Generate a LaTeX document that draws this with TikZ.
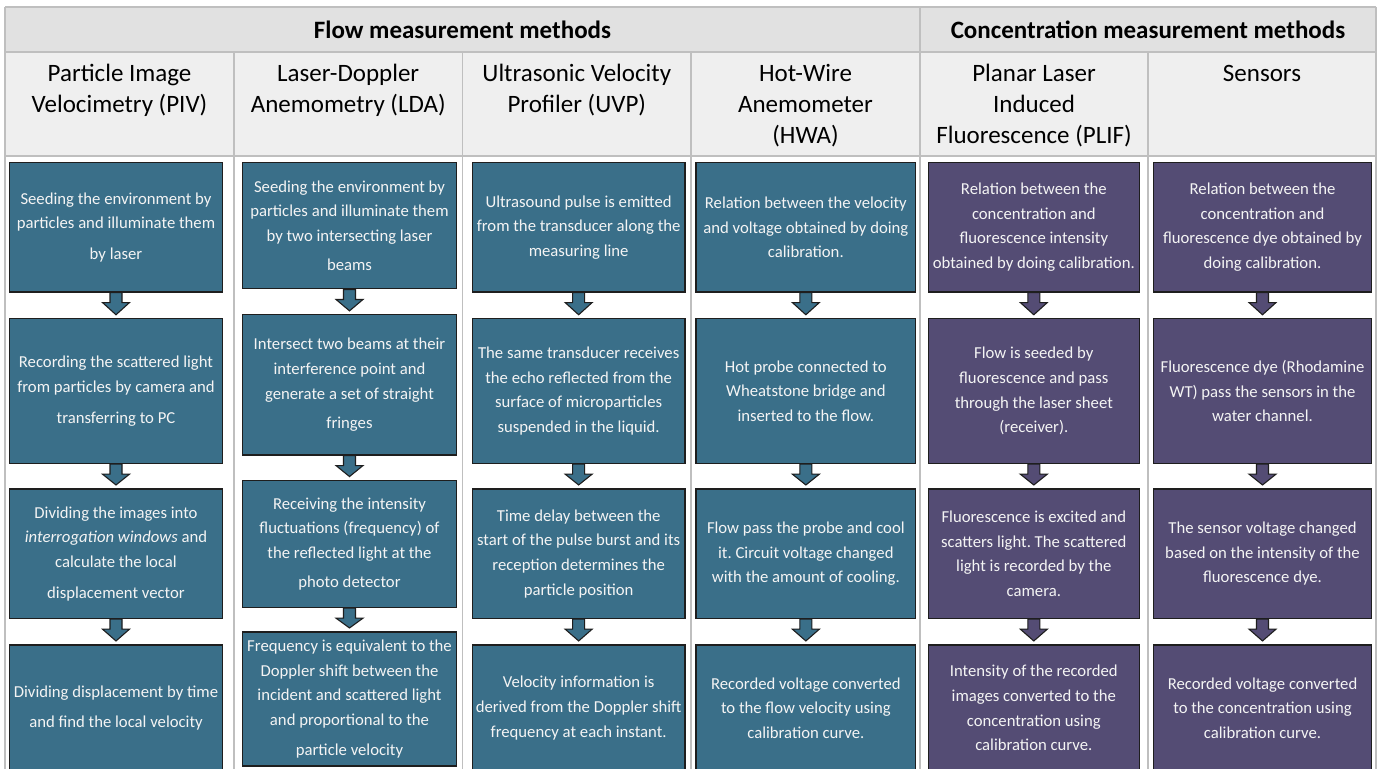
\documentclass[tikz,border=0pt]{standalone}
\usepackage{fontspec}
\setmainfont{Carlito}
\usetikzlibrary{calc}
\frenchspacing
\definecolor{tealbox}{HTML}{3A6F89}
\definecolor{purpbox}{HTML}{544C74}
\definecolor{boxline}{HTML}{1E1E1E}
\definecolor{boxtext}{HTML}{F4F4F4}
\definecolor{gridline}{HTML}{BFBFBF}
\definecolor{headA}{HTML}{E1E1E1}
\definecolor{headB}{HTML}{EFEFEF}
\tikzset{
  sbox/.style={draw=boxline, line width=1.1pt, inner sep=0pt, text=boxtext,
    font=\fontsize{16.7}{24.6}\selectfont, align=center},
  hdr/.style={inner sep=0pt, align=center, anchor=north, text=black,
    font=\fontsize{25}{31}\selectfont},
  ttl/.style={inner sep=0pt, text=black, font=\bfseries\fontsize{25}{30}\selectfont},
  grid/.style={draw=gridline, line width=1.5pt},
  arr/.style={draw=boxline, line width=1.1pt, line join=miter}
}
\newcommand{\boxnode}[7]{%
  \node[sbox, fill=#6, minimum width={#3-#2}, minimum height={#5-#4}] (#1) at ({(#2+#3)/2},{(#4+#5)/2}) {#7};}
\newcommand{\flowarrow}[3]{%
  \path[arr, fill=#3] let \p1=(#1.south), \p2=(#2.north) in
  (\x1-6pt,\y1) -- (\x1-6pt,\y1-10pt) -- (\x1-13.5pt,\y1-10pt) -- (\x1,\y2+3.5pt)
  -- (\x1+13.5pt,\y1-10pt) -- (\x1+6pt,\y1-10pt) -- (\x1+6pt,\y1) -- cycle;}
\begin{document}
\begin{tikzpicture}[x=1pt,y=-1pt]
\useasboundingbox (0,0) rectangle (1380,768);
\clip (0,0) rectangle (1380,768);
\fill[white] (0,0) rectangle (1380,768);
% header fills
\fill[headA] (5,7) rectangle (1376,52);
\fill[headB] (5,52) rectangle (1376,156);
% grid
\draw[grid] (5,7) -- (1376,7);
\draw[grid, line width=2pt] (5,52) -- (1376,52);
\draw[grid, line width=2pt] (5,156) -- (1376,156);
\draw[grid] (5,7) -- (5,770);
\draw[grid] (1376,7) -- (1376,770);
\draw[grid] (920,7) -- (920,770);
\foreach \xx in {234,462.5,691,1148} {\draw[grid] (\xx,52) -- (\xx,770);}
% titles
\node[ttl] (hd1) at (462.5,29.5) {Flow measurement methods};
\node[ttl] (hd2) at (1148,29.5) {Concentration measurement methods};
\node[hdr] (c1) at (119.5,59.8) {\strut Particle Image\\Velocimetry (PIV)};
\node[hdr] (c2) at (348.2,59.8) {\strut Laser-Doppler\\Anemometry (LDA)};
\node[hdr] (c3) at (576.8,59.8) {\strut Ultrasonic Velocity\\Profiler (UVP)};
\node[hdr] (c4) at (805.5,59.8) {\strut Hot-Wire\\Anemometer\\(HWA)};
\node[hdr] (c5) at (1034,59.8) {\strut Planar Laser\\Induced\\Fluorescence (PLIF)};
\node[hdr] (c6) at (1262,59.8) {\strut Sensors};
% PIV
\boxnode{p1}{9.3}{222.7}{162.6}{292}{tealbox}{Seeding the environment by\\particles and illuminate them\\[6pt]by laser}
\boxnode{p2}{9.3}{222.7}{318.8}{463.6}{tealbox}{Recording the scattered light\\from particles by camera and\\[6pt]transferring to PC}
\boxnode{p3}{9.3}{222.7}{489}{618.6}{tealbox}{Dividing the images into\\\textit{interrogation windows} and\\calculate the local\\[6pt]displacement vector}
\boxnode{p4}{9.3}{222.7}{645}{771}{tealbox}{Dividing displacement by time\\[5pt]and find the local velocity}
% LDA
\boxnode{l1}{242.3}{456.7}{162.6}{288.9}{tealbox}{Seeding the environment by\\particles and illuminate them\\by two intersecting laser\\[5pt]beams}
\boxnode{l2}{242.3}{456.7}{314.9}{455}{tealbox}{Intersect two beams at their\\interference point and\\generate a set of straight\\[5pt]fringes}
\boxnode{l3}{242.3}{456.7}{480.6}{607.6}{tealbox}{Receiving the intensity\\fluctuations (frequency) of\\the reflected light at the\\[5pt]photo detector}
\boxnode{l4}{242.3}{456.7}{632}{766}{tealbox}{Frequency is equivalent to the\\Doppler shift between the\\incident and scattered light\\and proportional to the\\[5pt]particle velocity}
% UVP
\boxnode{u1}{472.3}{685}{162.6}{292}{tealbox}{Ultrasound pulse is emitted\\from the transducer along the\\measuring line}
\boxnode{u2}{472.3}{685}{318.8}{463.6}{tealbox}{The same transducer receives\\the echo reflected from the\\surface of microparticles\\suspended in the liquid.}
\boxnode{u3}{472.3}{685}{489}{618.6}{tealbox}{Time delay between the\\start of the pulse burst and its\\reception determines the\\particle position}
\boxnode{u4}{472.3}{685}{645}{771}{tealbox}{Velocity information is\\derived from the Doppler shift\\frequency at each instant.}
% HWA
\boxnode{h1}{696}{915.7}{162.6}{292}{tealbox}{Relation between the velocity\\and voltage obtained by doing\\calibration.}
\boxnode{h2}{696}{915.7}{318.8}{463.6}{tealbox}{Hot probe connected to\\Wheatstone bridge and\\inserted to the flow.}
\boxnode{h3}{696}{915.7}{489}{618.6}{tealbox}{Flow pass the probe and cool\\it. Circuit voltage changed\\with the amount of cooling.}
\boxnode{h4}{696}{915.7}{645}{771}{tealbox}{Recorded voltage converted\\to the flow velocity using\\calibration curve.}
% PLIF
\boxnode{f1}{928.3}{1139.3}{162.6}{292}{purpbox}{Relation between the\\concentration and\\fluorescence intensity\\obtained by doing calibration.}
\boxnode{f2}{928.3}{1139.3}{318.8}{463.6}{purpbox}{Flow is seeded by\\fluorescence and pass\\through the laser sheet\\(receiver).}
\boxnode{f3}{928.3}{1139.3}{489}{618.6}{purpbox}{Fluorescence is excited and\\scatters light. The scattered\\light is recorded by the\\camera.}
\boxnode{f4}{928.3}{1139.3}{645}{771}{purpbox}{Intensity of the recorded\\images converted to the\\concentration using\\calibration curve.}
% Sensors
\boxnode{s1}{1153.3}{1371.7}{162.6}{292}{purpbox}{Relation between the\\concentration and\\fluorescence dye obtained by\\doing calibration.}
\boxnode{s2}{1153.3}{1371.7}{318.8}{463.6}{purpbox}{Fluorescence dye (Rhodamine\\WT) pass the sensors in the\\water channel.}
\boxnode{s3}{1153.3}{1371.7}{489}{618.6}{purpbox}{The sensor voltage changed\\based on the intensity of the\\fluorescence dye.}
\boxnode{s4}{1153.3}{1371.7}{645}{771}{purpbox}{Recorded voltage converted\\to the concentration using\\calibration curve.}
% arrows
\foreach \c/\col in {p/tealbox,l/tealbox,u/tealbox,h/tealbox,f/purpbox,s/purpbox}{
  \flowarrow{\c1}{\c2}{\col}
  \flowarrow{\c2}{\c3}{\col}
  \flowarrow{\c3}{\c4}{\col}
}
\end{tikzpicture}
\end{document}
